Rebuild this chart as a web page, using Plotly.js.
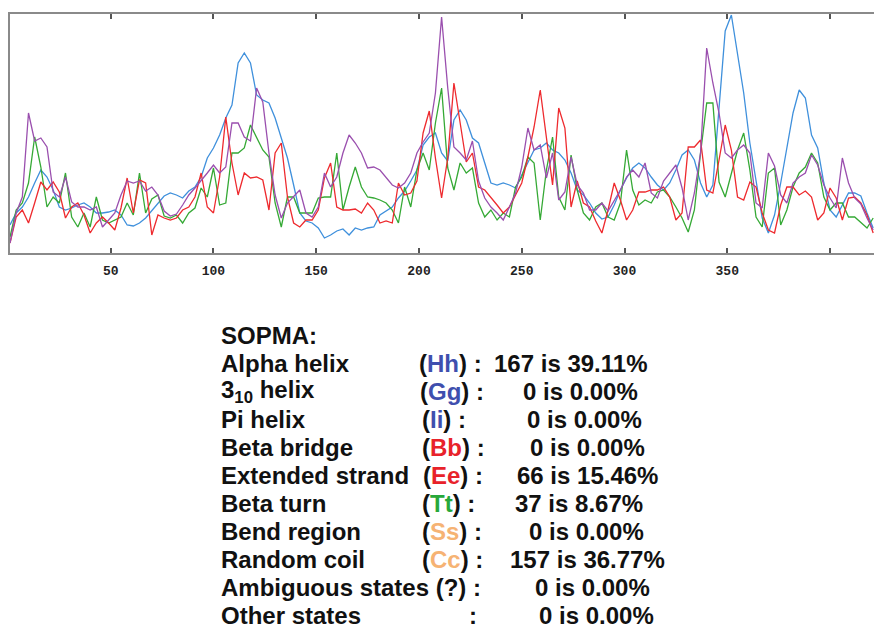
<!DOCTYPE html>
<html>
<head>
<meta charset="utf-8">
<script src="https://cdn.plot.ly/plotly-3.0.1.min.js"></script>
<style>
  html, body { margin: 0; padding: 0; background: #ffffff; overflow: hidden; }
  #chart { width: 874px; height: 631px; }
</style>
</head>
<body>
<div id="chart"></div>
<script>
// Residue positions are sampled every 3 residues starting at residue 1.
const residueStart = 1;
const residueStep = 3;

// SOPMA per-residue prediction scores (arbitrary units)
const helixScore = [ // blue
  28,40,46,56,70,83,76,63,46,43,45,48,50,46,40,40,41,43,
  38,28,27,30,35,42,50,57,60,58,55,62,66,76,95,105,118,135,
  148,190,200,190,158,153,150,135,115,95,68,40,32,30,25,15,18,
  22,24,18,25,23,25,26,38,42,46,55,62,72,83,108,116,120,100,
  92,133,143,133,115,110,90,70,68,70,68,65,78,90,103,105,110,
  103,100,93,80,63,58,50,40,34,36,48,63,75,85,90,85,76,68,
  63,70,83,98,103,93,70,56,68,145,222,238,200,160,110,73,35,
  20,38,70,105,140,163,155,118,105,70,43,36,48,60,60,57,40,25
];
const strandScore = [ // red
  10,36,43,30,50,71,63,71,61,35,46,50,38,20,30,36,30,23,
  45,75,40,73,70,18,38,35,33,35,43,46,56,80,46,40,76,136,
  90,58,80,75,76,73,43,100,110,56,30,26,33,33,43,75,90,
  46,43,43,44,40,50,43,30,32,30,70,58,60,72,120,142,95,55,
  95,170,130,91,100,66,63,56,48,40,46,58,70,96,126,163,113,
  68,145,125,46,72,50,46,32,20,43,70,53,33,43,61,61,63,63,
  66,56,33,40,106,106,113,63,60,93,128,103,56,53,71,66,40,
  23,20,48,66,66,58,62,56,33,40,65,55,33,55,56,50,38,20
];
const turnScore = [ // green
  16,43,50,70,116,86,46,56,50,80,36,26,40,26,56,33,30,33,
  36,50,38,80,40,54,58,37,35,38,30,40,45,65,56,85,48,50,
  100,100,105,128,116,103,96,50,26,56,56,40,40,40,55,56,56,
  100,43,66,86,66,56,55,53,50,43,30,66,46,83,100,83,130,165,
  85,63,90,80,85,50,36,43,33,40,36,66,76,96,90,33,83,
  116,56,43,98,63,40,33,46,50,36,33,50,103,63,48,53,50,61,
  63,56,46,35,21,43,100,150,150,71,56,80,103,120,83,36,26,
  80,85,28,43,66,80,86,100,90,56,43,50,50,36,36,30,25,35
];
const coilScore = [ // purple
  10,40,56,140,112,115,106,61,56,76,51,46,46,43,46,26,33,40,
  58,72,70,72,62,66,58,42,37,39,48,58,65,72,80,88,80,86,
  130,130,116,112,165,151,100,58,35,50,56,63,40,36,46,80,66,
  76,100,118,110,100,85,86,83,76,68,65,70,80,100,111,120,160,236,
  165,106,100,93,112,72,55,46,40,33,46,60,86,125,103,108,75,
  100,53,61,96,68,60,43,43,50,42,53,63,76,83,76,90,60,55,
  72,80,88,65,33,60,100,205,170,140,100,95,103,108,100,50,45,
  100,87,58,50,70,76,80,98,88,68,55,45,95,70,55,49,35,23
];

const tickValues = [50, 100, 150, 200, 250, 300, 350];
const tickLabels = ["50", "100", "150", "200", "250", "300", "350"];
const unlabeledTicks = [400];

// SOPMA summary table
const sopmaTitle = "SOPMA:";
const stateNames = ["Alpha helix", "3<sub>10</sub> helix", "Pi helix", "Beta bridge",
  "Extended strand", "Beta turn", "Bend region", "Random coil",
  "Ambiguous states (?) :", "Other states"];
const stateCodes = ["Hh", "Gg", "Ii", "Bb", "Ee", "Tt", "Ss", "Cc", "", ""];
const stateCounts = [167, 0, 0, 0, 66, 37, 0, 157, 0, 0];
const statePercents = ["39.11", "0.00", "0.00", "0.00", "15.46", "8.67", "0.00", "36.77", "0.00", "0.00"];

const residues = helixScore.map((_, i) => residueStart + residueStep * i);

function line(y, color) {
  return { x: residues, y: y, type: "scatter", mode: "lines",
           line: { color: color, width: 1.3 }, hoverinfo: "skip", showlegend: false };
}

const traces = [
  line(helixScore, "#3f90dc"),
  line(turnScore, "#35a935"),
  line(strandScore, "#ee2a2e"),
  line(coilScore, "#9a4fae")
];

const codeColors = { Hh: "#3f4fae", Gg: "#3f4fae", Ii: "#3f4fae", Bb: "#e8222a", Ee: "#e8222a",
                     Tt: "#27a83a", Ss: "#f6b374", Cc: "#f6b374" };

const plotLeft = 10, plotBottom = 253;
const rowTop = 363, rowGap = 28;
const codeLeft = [420, 421, 423, 423, 424, 423, 423, 423];
const valueLeft = [495, 524, 528, 531, 518, 516, 530, 511, 536, 540];
const textFont = { family: "Liberation Sans, Arial, sans-serif", size: 24, color: "#111111" };

function ann(text, px, py) {
  return { text: text, xref: "paper", yref: "paper", x: 0, y: 0,
           xanchor: "left", yanchor: "middle", showarrow: false, borderpad: 0,
           xshift: px - plotLeft - 2, yshift: plotBottom - py, font: textFont };
}

const annotations = [ann("<b>" + sopmaTitle + "</b>", 222, 335)];
stateNames.forEach((name, i) => {
  const py = rowTop + rowGap * i;
  annotations.push(ann("<b>" + name + "</b>", 222, py));
  const code = stateCodes[i];
  if (code) {
    annotations.push(ann("<b>(<span style=\"color:" + codeColors[code] + "\">" + code + "</span>) :</b>", codeLeft[i], py));
  } else if (i === stateNames.length - 1) {
    annotations.push(ann("<b>:</b>", 470, py));
  }
  annotations.push(ann("<b>" + stateCounts[i] + " is " + statePercents[i] + "%</b>", valueLeft[i], py));
});

const layout = {
  width: 874, height: 631,
  margin: { l: plotLeft, r: 0, t: 14, b: 631 - plotBottom, pad: 0 },
  paper_bgcolor: "#ffffff", plot_bgcolor: "#ffffff",
  xaxis: {
    range: [1, 421.4], showgrid: false, zeroline: false,
    showline: true, linecolor: "#8a8a8a", linewidth: 2, mirror: "ticks",
    ticks: "inside", ticklen: 5, tickwidth: 2, tickcolor: "#555555",
    tickvals: tickValues, ticktext: tickLabels.map(t => "<b>" + t + "</b>"),
    tickfont: { family: "Liberation Mono, Courier New, monospace", size: 13, color: "#222222" },
    ticklabelstandoff: 4,
    minor: { tickvals: unlabeledTicks, ticks: "inside", ticklen: 5, tickwidth: 2, tickcolor: "#555555", showgrid: false }
  },
  yaxis: {
    range: [0, 239], showgrid: false, zeroline: false,
    showline: true, linecolor: "#8a8a8a", linewidth: 2, mirror: false,
    ticks: "", showticklabels: false
  },
  annotations: annotations
};

Plotly.newPlot("chart", traces, layout, { staticPlot: true, displayModeBar: false });
</script>
</body>
</html>
